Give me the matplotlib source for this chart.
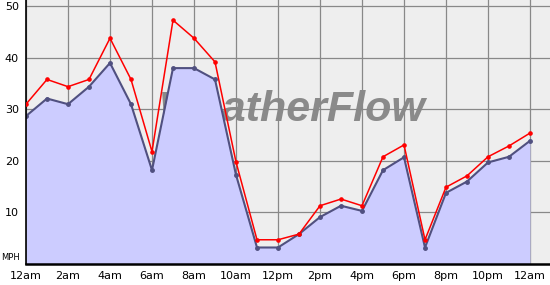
import matplotlib
matplotlib.use("Agg")
import matplotlib.pyplot as plt

hours = list(range(25))
avg_wind = [28.7, 32.1, 31.0, 34.4, 39.0, 31.0, 18.2, 38.0, 38.0, 35.8, 17.3, 3.2, 3.2,
            5.8, 9.1, 11.3, 10.3, 18.2, 20.7, 3.2, 13.8, 16.0, 19.7, 20.8, 23.9]
gust = [31.0, 35.8, 34.4, 35.8, 43.8, 35.8, 21.8, 47.3, 43.8, 39.2, 19.8, 4.7, 4.7,
        5.8, 11.3, 12.6, 11.3, 20.8, 23.1, 4.7, 14.9, 17.1, 20.8, 22.9, 25.4]
x_ticks = list(range(0, 25, 2))
x_labels = ["12am", "2am", "4am", "6am", "8am", "10am", "12pm", "2pm", "4pm",
            "6pm", "8pm", "10pm", "12am"]
y_ticks = [10, 20, 30, 40, 50]

fig = plt.figure(figsize=(5.5, 2.85), dpi=100)
fig.patch.set_facecolor("white")
ax = fig.add_axes([26/550, 21/285, 524/550, 264/285])
ax.set_facecolor("#eeeeee")
ax.set_xlim(0, 524/21)
ax.set_ylim(0, 264/5.155)

ax.set_axisbelow(True)
ax.grid(True, color="#888888", linewidth=0.9)
ax.set_xticks(x_ticks)
ax.set_xticklabels(x_labels)
ax.set_yticks(y_ticks)
ax.tick_params(length=0, labelsize=8, colors="black")
ax.tick_params(axis="y", pad=5)
ax.tick_params(axis="x", pad=5)

ax.text(0.508, 0.585, "WeatherFlow", transform=ax.transAxes, ha="center", va="center",
        fontsize=31, fontweight="bold", fontstyle="italic", family="Liberation Sans",
        color="#8a8a8a", zorder=0.3)

ax.fill_between(hours, avg_wind, 0, color="#ccccff", zorder=1, linewidth=0)
ax.plot(hours, avg_wind, color="#505080", linewidth=1.5, marker="o", markersize=2.5, zorder=2)
ax.plot(hours, gust, color="#ff0000", linewidth=1.1, marker="o", markersize=2.3, zorder=3)

for s in ["top", "right"]:
    ax.spines[s].set_visible(False)
ax.spines["left"].set_linewidth(1.2)
ax.spines["bottom"].set_linewidth(1.8)

fig.text(1/550, 1 - 257/285, "MPH", fontsize=6, ha="left", va="center")

fig.savefig("out.png", dpi=100)
